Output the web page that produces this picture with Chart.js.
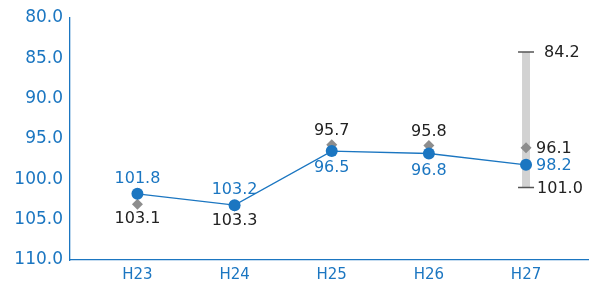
<!DOCTYPE html>
<html><head><meta charset="utf-8">
<script src="https://cdn.jsdelivr.net/npm/chart.js@4"></script>
<style>html,body{margin:0;padding:0;background:#fff}#w{width:598px;height:285px}</style>
</head><body><div id="w"><canvas id="c"></canvas></div>
<script>
const categories = ["H23","H24","H25","H26","H27"];
const blueValues = [101.8, 103.2, 96.5, 96.8, 98.2];
const greyValues = [103.1, 103.3, 95.7, 95.8, 96.1];
const rangeValues = [84.2, 101.0];
const rangeIndex = 4;
const yTicks = [80,85,90,95,100,105,110];

const BLUE = '#1b76c1';
const FONT = '"DejaVu Sans", sans-serif';

const labelPlugin = {
  id: 'labels',
  afterDatasetsDraw(chart) {
    const ctx = chart.ctx, x = chart.scales.x, y = chart.scales.y;
    ctx.save();
    ctx.font = '16px ' + FONT;
    ctx.textBaseline = 'middle';
    for (let i = 0; i < categories.length; i++) {
      const px = x.getPixelForValue(i);
      const b = blueValues[i], g = greyValues[i];
      const by = y.getPixelForValue(b), gy = y.getPixelForValue(g);
      if (i === rangeIndex) {
        ctx.textAlign = 'left';
        ctx.fillStyle = '#222';
        ctx.fillText(g.toFixed(1), px + 10, gy + 1);
        ctx.fillStyle = BLUE;
        ctx.fillText(b.toFixed(1), px + 10, by + 1);
        ctx.fillStyle = '#222';
        ctx.fillText(rangeValues[0].toFixed(1), px + 18, y.getPixelForValue(rangeValues[0]) + 1);
        ctx.fillText(rangeValues[1].toFixed(1), px + 11, y.getPixelForValue(rangeValues[1]) + 1);
        continue;
      }
      ctx.textAlign = 'center';
      if (by < gy) {
        ctx.fillStyle = BLUE; ctx.fillText(b.toFixed(1), px, by - 15);
        ctx.fillStyle = '#222'; ctx.fillText(g.toFixed(1), px, gy + 15);
      } else {
        ctx.fillStyle = '#222'; ctx.fillText(g.toFixed(1), px, gy - 14);
        ctx.fillStyle = BLUE; ctx.fillText(b.toFixed(1), px, by + 17);
      }
    }
    ctx.restore();
  }
};

new Chart(document.getElementById('c'), {
  type: 'line',
  data: {
    datasets: [
      {
        data: blueValues.map((v,i)=>({x:i,y:v})),
        borderColor: BLUE, backgroundColor: BLUE, borderWidth: 1.3,
        pointRadius: 6, pointBackgroundColor: BLUE, pointBorderWidth: 0,
        order: 1
      },
      {
        data: greyValues.map((v,i)=>({x:i,y:v})),
        showLine: false, pointStyle: 'rectRot', pointRadius: 5.5,
        pointBackgroundColor: '#8d8d8d', pointBorderWidth: 0,
        order: 2
      },
      {
        data: rangeValues.map(v=>({x:rangeIndex,y:v})),
        borderColor: '#d2d2d2', borderWidth: 8, borderCapStyle: 'butt',
        pointStyle: 'line', pointRadius: 8, pointBorderColor: '#555', pointBorderWidth: 1.5,
        order: 3
      }
    ]
  },
  options: {
    responsive: true, maintainAspectRatio: false, animation: false,
    layout: { padding: { top: 18, right: 5, left: 0, bottom: 0 } },
    plugins: { legend: { display: false }, tooltip: { enabled: false } },
    scales: {
      x: {
        type: 'linear', min: -0.694, max: 4.643,
        afterBuildTicks: s => { s.ticks = categories.map((c,i)=>({value:i})); },
        afterFit: s => { s.height = 25; },
        grid: { display: false, drawTicks: false },
        border: { display: true, color: BLUE, width: 1.3 },
        ticks: { color: BLUE, font: { size: 15, family: FONT }, padding: 6,
                 autoSkip: false, maxRotation: 0,
                 callback: v => categories[v] }
      },
      y: {
        type: 'linear', reverse: true, min: 80, max: 110,
        afterBuildTicks: s => { s.ticks = yTicks.map(v=>({value:v})); },
        afterFit: s => { s.width = 70; },
        grid: { display: false, drawTicks: false },
        border: { display: true, color: BLUE, width: 1.3 },
        ticks: { color: BLUE, font: { size: 17, family: FONT }, padding: 7,
                 callback: v => Number(v).toFixed(1) }
      }
    }
  },
  plugins: [labelPlugin]
});
</script>
</body></html>
